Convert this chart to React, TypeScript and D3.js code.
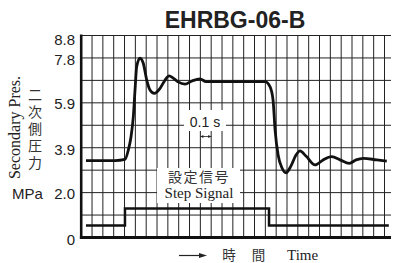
import React, { useEffect, useRef } from 'react';
import * as d3 from 'd3';

// time in seconds (one grid column = 0.1 s), pressure in MPa
const pressureTime = [0.044, 0.312, 0.404, 0.435, 0.46, 0.481, 0.497, 0.512, 0.543, 0.573, 0.605, 0.635, 0.675, 0.728, 0.774, 0.811, 0.85, 0.894, 0.958, 1.023, 1.097, 1.152, 1.697, 1.743, 1.771, 1.79, 1.818, 1.854, 1.891, 1.937, 1.983, 2.02, 2.075, 2.159, 2.233, 2.313, 2.39, 2.475, 2.537, 2.605, 2.729, 2.821];
const pressureValue = [3.35, 3.35, 3.4, 3.81, 4.39, 5.26, 6.43, 7.44, 7.81, 7.59, 6.86, 6.43, 6.28, 6.5, 6.86, 7.04, 6.94, 6.78, 6.68, 6.82, 6.91, 6.79, 6.79, 6.57, 5.99, 4.68, 3.59, 3.03, 2.82, 3.12, 3.59, 3.77, 3.55, 3.16, 3.38, 3.52, 3.38, 3.23, 3.38, 3.45, 3.38, 3.33];

const stepTime = [0.044, 0.404, 1.734, 2.84];
const stepValue = [0.52, 1.26, 0.52, 0.52];

const yTicks = [0, 2.0, 3.9, 5.9, 7.8, 8.8];
const yTickLabels = ['0', '2.0', '3.9', '5.9', '7.8', '8.8'];
const yLabelJa = '二次側圧力';

const App = () => {
    const ref = useRef(null);

    useEffect(() => {
        const svg = d3.select(ref.current);
        svg.selectAll('*').remove();

        const left = 81.2, right = 391, top = 35.5, bottom = 237.5;
        const x = d3.scaleLinear().domain([0, 2.86]).range([left, right]);
        const y = d3.scaleLinear().domain([0, 8.8]).range([bottom, top]);

        const sans = 'Liberation Sans, Arial, sans-serif';
        const serif = 'Liberation Serif, Times New Roman, serif';
        const cjk = 'Noto Sans CJK JP, sans-serif';

        // grid
        const grid = svg.append('g').attr('stroke', '#222').attr('stroke-width', 1);
        d3.range(1, 29).forEach(i => {
            grid.append('line')
                .attr('x1', x(i / 10)).attr('x2', x(i / 10))
                .attr('y1', top).attr('y2', bottom);
        });
        d3.range(0, 9).forEach(i => {
            const v = 8.8 - i * 8.8 / 9;
            grid.append('line')
                .attr('x1', left).attr('x2', right)
                .attr('y1', y(v)).attr('y2', y(v));
        });

        // white label boxes
        svg.append('rect').attr('x', 184).attr('y', 110).attr('width', 42).attr('height', 21).attr('fill', '#fff');
        svg.append('rect').attr('x', 157).attr('y', 168).attr('width', 83).attr('height', 35).attr('fill', '#fff');

        const pressureLine = d3.line<number>()
            .x((d, i) => x(pressureTime[i]))
            .y(d => y(d))
            .curve(d3.curveMonotoneX);

        svg.append('path')
            .datum(pressureValue)
            .attr('fill', 'none')
            .attr('stroke', '#111')
            .attr('stroke-width', 2.8)
            .attr('stroke-linejoin', 'round')
            .attr('d', pressureLine);

        const stepLine = d3.line<number>()
            .x((d, i) => x(stepTime[i]))
            .y(d => y(d))
            .curve(d3.curveStepAfter);

        svg.append('path')
            .datum(stepValue)
            .attr('fill', 'none')
            .attr('stroke', '#111')
            .attr('stroke-width', 2.5)
            .attr('d', stepLine);

        // axes
        svg.append('line').attr('x1', left).attr('x2', left).attr('y1', top - 1).attr('y2', bottom + 1.5)
            .attr('stroke', '#111').attr('stroke-width', 2.6);
        svg.append('line').attr('x1', left - 1.3).attr('x2', right).attr('y1', bottom).attr('y2', bottom)
            .attr('stroke', '#111').attr('stroke-width', 3);

        svg.append('g')
            .selectAll('text')
            .data(yTicks)
            .enter().append('text')
            .attr('x', 75)
            .attr('y', (d, i) => y(d) + (i === yTicks.length - 1 ? 9.5 : 7))
            .attr('text-anchor', 'end')
            .attr('font-family', sans)
            .attr('font-size', 15)
            .attr('fill', '#222')
            .text((d, i) => yTickLabels[i]);

        svg.append('text')
            .attr('x', 27.5).attr('y', y(2.0) + 7)
            .attr('text-anchor', 'middle')
            .attr('font-family', sans).attr('font-size', 15).attr('fill', '#222')
            .text('MPa');

        svg.append('text')
            .attr('transform', 'translate(20,127.5) rotate(-90)')
            .attr('text-anchor', 'middle')
            .attr('font-family', serif).attr('font-size', 16).attr('fill', '#222')
            .text('Secondary Pres.');

        svg.append('text')
            .attr('x', 35)
            .attr('y', 88)
            .style('writing-mode', 'vertical-rl')
            .attr('letter-spacing', 2.8)
            .attr('font-family', cjk).attr('font-size', 14).attr('fill', '#333')
            .text(yLabelJa);

        // title
        svg.append('text')
            .attr('x', 235).attr('y', 28.3)
            .attr('text-anchor', 'middle')
            .attr('font-family', sans).attr('font-size', 23).attr('font-weight', 'bold').attr('fill', '#222')
            .text('EHRBG-06-B');

        // 0.1 s annotation
        svg.append('text')
            .attr('x', 205).attr('y', 127)
            .attr('text-anchor', 'middle')
            .attr('font-family', sans).attr('font-size', 14).attr('fill', '#222')
            .text('0.1 s');
        const ay = 136.5;
        const ax1 = x(1.1), ax2 = x(1.2);
        svg.append('line').attr('x1', ax1).attr('x2', ax2).attr('y1', ay).attr('y2', ay)
            .attr('stroke', '#222').attr('stroke-width', 0.8);
        [[ax1, 1], [ax2, -1]].forEach(([px, dir]) => {
            svg.append('path')
                .attr('d', `M${px},${ay} l${dir * 3},-1.5 l0,3 Z`)
                .attr('fill', '#222');
        });

        // step signal label
        svg.append('text')
            .attr('x', 199).attr('y', 182)
            .attr('text-anchor', 'middle')
            .attr('font-family', cjk).attr('font-size', 14)
            .attr('letter-spacing', 1.5).attr('fill', '#333')
            .text('設定信号');
        svg.append('text')
            .attr('x', 199).attr('y', 198)
            .attr('text-anchor', 'middle')
            .attr('font-family', serif).attr('font-size', 15).attr('fill', '#222')
            .text('Step Signal');

        // time axis label
        svg.append('line').attr('x1', 179).attr('x2', 201).attr('y1', 255.5).attr('y2', 255.5)
            .attr('stroke', '#222').attr('stroke-width', 1.2);
        svg.append('path').attr('d', 'M207,255.5 l-8,-2.5 l0,5 Z').attr('fill', '#222');
        svg.append('text')
            .attr('x', 229).attr('y', 259.5)
            .attr('text-anchor', 'middle')
            .attr('font-family', cjk).attr('font-size', 13.5).attr('fill', '#333')
            .text('時');
        svg.append('text')
            .attr('x', 258.5).attr('y', 259.5)
            .attr('text-anchor', 'middle')
            .attr('font-family', cjk).attr('font-size', 13.5).attr('fill', '#333')
            .text('間');
        svg.append('text')
            .attr('x', 287).attr('y', 260)
            .attr('font-family', serif).attr('font-size', 15).attr('fill', '#222')
            .text('Time');
    }, []);

    return (
        <svg
            ref={ref}
            width={393}
            height={263}
            style={{ position: 'absolute', left: 0, top: 0, background: '#fff' }}
        />
    );
};

export default App;
